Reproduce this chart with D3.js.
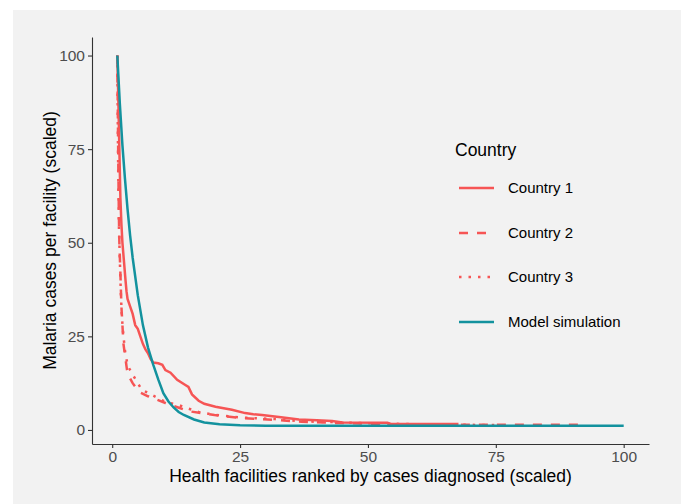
<!DOCTYPE html>
<html>
<head>
<meta charset="utf-8">
<script src="https://cdn.jsdelivr.net/npm/d3@7"></script>
<style>
  body { margin: 0; background: #fff; }
  text { font-family: "Liberation Sans", Arial, sans-serif; }
</style>
</head>
<body>
<div class="canvas"></div>
<script>
// data (x = facility rank scaled, y = cases scaled)
const country1X = [1, 1.2, 1.4, 1.6, 1.8, 2, 2.3, 2.6, 2.8, 3, 3.5, 4, 4.5, 5, 5.5, 6, 6.5, 7, 7.5, 8, 9, 9.8, 10.4, 11.4, 12.7, 14.3, 14.9, 15.6, 16.9, 18, 20.2, 23.4, 26, 27.6, 29.3, 33, 36.5, 40, 43, 45, 53.8, 54.5, 67.7];
const country1Y = [100, 88, 75, 62, 55, 50, 45, 40, 37, 35, 33, 31, 28, 27, 25, 23, 21.5, 20.5, 19, 18, 17.8, 17.4, 16, 15.3, 13.4, 12, 11.5, 9.5, 7.8, 7, 6.2, 5.4, 4.5, 4.2, 4, 3.4, 2.8, 2.6, 2.4, 2, 1.9, 1.6, 1.6];

const country2X = [1, 1.1, 1.2, 1.3, 1.4, 1.6, 1.8, 2, 2.2, 2.5, 2.9, 3.4, 4, 4.8, 5.5, 7, 8.5, 10.4, 12.9, 15, 17, 20, 25, 31.5, 37, 43, 50, 56, 70, 92];
const country2Y = [100, 85, 70, 58, 50, 42, 33, 28, 23, 20, 16, 14, 12.5, 11, 10, 9, 8.2, 7.2, 6, 5, 4.6, 4, 3.2, 2.7, 2.2, 1.9, 1.7, 1.4, 1.4, 1.4];

const country3X = [1, 1.1, 1.2, 1.3, 1.5, 1.7, 1.9, 2.2, 2.6, 3.1, 3.9, 4.8, 5.8, 7, 8.4, 10.4, 12.9, 14.5, 16.9, 20.2, 25.4, 31.9, 37, 43, 50, 60, 75];
const country3Y = [100, 80, 66, 55, 45, 36, 30, 25, 20, 17, 15, 13, 10.7, 9.9, 8.9, 7.5, 6.7, 5.9, 4.8, 4, 3.3, 2.9, 2.3, 2.1, 1.8, 1.5, 1.3];

const modelX = [1, 1.5, 2, 2.5, 3, 3.5, 4, 5, 6, 7, 8, 9, 10, 11, 12, 13, 14, 16, 18, 21, 25, 30, 40, 60, 100];
const modelY = [100, 87, 76, 67, 59, 52, 46, 36, 28, 22, 17.5, 13.5, 9.8, 7.6, 6, 4.8, 4, 2.8, 2.0, 1.5, 1.25, 1.15, 1.1, 1.1, 1.1];

const seriesNames = ["Country 1", "Country 2", "Country 3", "Model simulation"];
const xTicks = [0, 25, 50, 75, 100];
const yTicks = [0, 25, 50, 75, 100];

const red = "#f65555";
const teal = "#13929e";

const margin = { top: 37, right: 32, bottom: 60, left: 92 };
const width = 681, height = 504;
const graphWidth = width - margin.left - margin.right;
const graphHeight = height - margin.top - margin.bottom;

const svg = d3.select(".canvas")
  .append("svg")
  .attr("width", width)
  .attr("height", height);

// grey backdrop (offset like the screenshot)
svg.append("rect")
  .attr("x", 13).attr("y", 10)
  .attr("width", width - 13).attr("height", height - 10)
  .attr("fill", "#f2f2f2");

const graph = svg.append("g")
  .attr("transform", `translate(${margin.left}, ${margin.top})`);

// scales with ggplot-style 5% padding
const x = d3.scaleLinear().domain([-3.95, 104.95]).range([0, graphWidth]);
const y = d3.scaleLinear().domain([-3.75, 104.95]).range([graphHeight, 0]);

const line = d3.line()
  .x(d => x(d[0]))
  .y(d => y(d[1]));

const series = [
  { name: seriesNames[0], xs: country1X, ys: country1Y, color: red, dash: null },
  { name: seriesNames[1], xs: country2X, ys: country2Y, color: red, dash: "9,9" },
  { name: seriesNames[2], xs: country3X, ys: country3Y, color: red, dash: "2.5,7" },
  { name: seriesNames[3], xs: modelX, ys: modelY, color: teal, dash: null }
];

series.forEach(s => {
  graph.append("path")
    .datum(d3.zip(s.xs, s.ys))
    .attr("fill", "none")
    .attr("stroke", s.color)
    .attr("stroke-width", 2.5)
    .attr("stroke-dasharray", s.dash)
    .attr("d", line);
});

// axes
const xAxis = d3.axisBottom(x).tickValues(xTicks).tickSize(4).tickPadding(3).tickSizeOuter(0);
const yAxis = d3.axisLeft(y).tickValues(yTicks).tickSize(4).tickPadding(3).tickSizeOuter(0);

const xAxisGroup = graph.append("g")
  .attr("transform", `translate(0,${graphHeight})`)
  .call(xAxis);
const yAxisGroup = graph.append("g").call(yAxis);

[xAxisGroup, yAxisGroup].forEach(g => {
  g.select(".domain").attr("stroke", "#333").attr("stroke-width", 1.1);
  g.selectAll(".tick line").attr("stroke", "#333").attr("stroke-width", 1.1);
  g.selectAll(".tick text")
    .attr("fill", "#4d4d4d")
    .style("font-size", "15.5px")
    .style("font-family", "Liberation Sans, Arial, sans-serif");
});

// axis titles
svg.append("text")
  .attr("x", margin.left + graphWidth / 2)
  .attr("y", 482)
  .attr("text-anchor", "middle")
  .style("font-size", "17.5px")
  .attr("fill", "#000")
  .text("Health facilities ranked by cases diagnosed (scaled)");

svg.append("text")
  .attr("transform", `translate(56, ${margin.top + graphHeight / 2}) rotate(-90)`)
  .attr("text-anchor", "middle")
  .style("font-size", "17.5px")
  .attr("fill", "#000")
  .text("Malaria cases per facility (scaled)");

// legend
const legend = svg.append("g").attr("transform", "translate(455, 0)");
legend.append("text")
  .attr("x", 0).attr("y", 156)
  .style("font-size", "17.5px")
  .text("Country");

const legendY = [188, 233, 277, 322];
series.forEach((s, i) => {
  legend.append("line")
    .attr("x1", 4).attr("x2", 39)
    .attr("y1", legendY[i]).attr("y2", legendY[i])
    .attr("stroke", s.color)
    .attr("stroke-width", 2.5)
    .attr("stroke-dasharray", s.dash);
  legend.append("text")
    .attr("x", 53).attr("y", legendY[i] + 5)
    .style("font-size", "15px")
    .text(s.name);
});
</script>
</body>
</html>
